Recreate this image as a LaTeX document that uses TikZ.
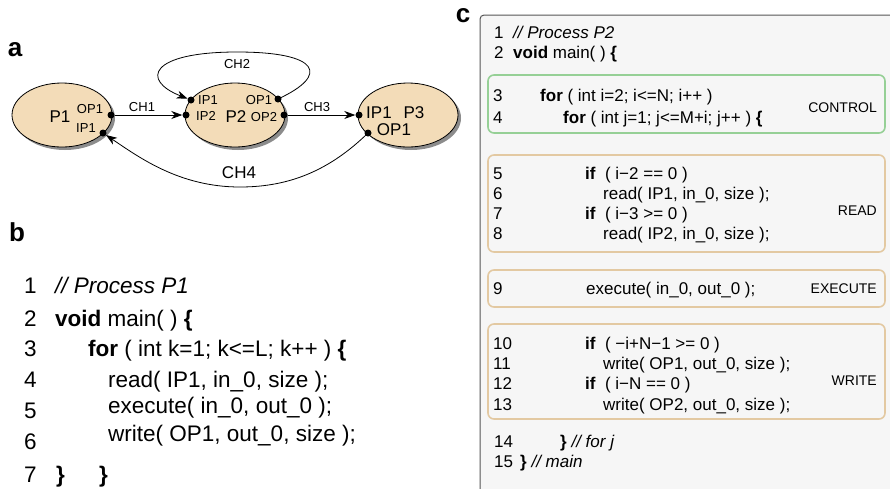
\documentclass[tikz,border=0pt]{standalone}
\usepackage{fontspec}
\setmainfont{Liberation Sans}
\usetikzlibrary{arrows.meta,shapes.geometric,shadows}
\definecolor{procfill}{HTML}{F3DCB8}
\definecolor{ctrlgreen}{HTML}{96D096}
\definecolor{tanline}{HTML}{E3C9A2}
\definecolor{panelfill}{HTML}{F6F6F6}
\definecolor{panelline}{HTML}{555555}
\begin{document}
\begin{tikzpicture}[x=1pt,y=-1pt,
  proc/.style={ellipse, draw=black, line width=0.8pt, fill=procfill, minimum width=100pt, minimum height=64pt, inner sep=0pt,
    drop shadow={shadow xshift=3pt, shadow yshift=-3pt, fill=black!45, opacity=1}},
  port/.style={circle, fill=black, inner sep=0pt, minimum size=7pt},
  chan/.style={line width=0.8pt, -{Stealth[length=11pt,width=8pt,inset=3.5pt]}},
  small/.style={font=\fontsize{13}{15}\selectfont, inner sep=0pt},
  big/.style={font=\fontsize{17}{19}\selectfont, inner sep=0pt},
  panel/.style={font=\fontsize{26}{28}\selectfont\bfseries, inner sep=0pt},
  codeb/.style={font=\fontsize{22.5}{25}\selectfont, inner sep=0pt, anchor=base west},
  codec/.style={font=\fontsize{17}{19}\selectfont, inner sep=0pt, anchor=base west},
  tag/.style={font=\fontsize{14}{16}\selectfont, inner sep=0pt, anchor=base east},
  block/.style={rounded corners=6pt, line width=1.6pt, fill=panelfill}
]
\path[use as bounding box] (0,0) rectangle (890,488);
\clip (0,0) rectangle (890,488);

% ---------------- panel a ----------------
\node[panel] (la) at (15,50) {a};
\node[proc] (P1) at (62,115) {};
\node[proc] (P2) at (235,115) {};
\node[proc] (P3) at (408,115) {};

\node[big] (t1) at (60,117) {P1};
\node[small] (t1o) at (90,109) {OP1};
\node[small] (t1i) at (86,128) {IP1};

\node[small] (t2i1) at (208,100) {IP1};
\node[small] (t2i2) at (206,116) {IP2};
\node[big] (t2) at (236,117) {P2};
\node[small] (t2o1) at (259,100) {OP1};
\node[small] (t2o2) at (264,117) {OP2};

\node[big] (t3i) at (379,113) {IP1};
\node[big] (t3) at (414,113) {P3};
\node[big] (t3o) at (394,130) {OP1};

\node[port] (p1op1) at (111,115) {};
\node[port] (p1ip1) at (103,133) {};
\node[port] (p2ip1) at (191,100) {};
\node[port] (p2ip2) at (186,115) {};
\node[port] (p2op1) at (278,99) {};
\node[port] (p2op2) at (284,115) {};
\node[port] (p3ip1) at (359,115) {};
\node[port] (p3op1) at (368,133) {};

\draw[chan] (p1op1) -- (p2ip2);
\draw[chan] (p2op2) -- (p3ip1);
\draw[chan] (p2op1.center) .. controls (330,75) and (320,52) .. (237,52)
             .. controls (150,52) and (140,80) .. (p2ip1);
\draw[chan] (p3op1.center) .. controls (330,170) and (290,187) .. (240,187)
             .. controls (180,187) and (140,158) .. (p1ip1);

\node[small] (ch1) at (142,107) {CH1};
\node[small] (ch3) at (317,107) {CH3};
\node[small] (ch2) at (237,64) {CH2};
\node[big] (ch4) at (239,173) {CH4};

% ---------------- panel b ----------------
\node[panel] (lb) at (17,232) {b};
\node[codeb] (b1n) at (24,293) {1};
\node[codeb] (b1) at (55,293) {\itshape // Process P1};
\node[codeb] (b2n) at (24,326) {2};
\node[codeb] (b2) at (55,326) {\textbf{void} main( ) \textbf{\{}};
\node[codeb] (b3n) at (24,356) {3};
\node[codeb] (b3) at (88,356) {\textbf{for} ( int k=1; k<=L; k++ ) \textbf{\{}};
\node[codeb] (b4n) at (24,387) {4};
\node[codeb] (b4) at (108,387) {read( IP1, in\_0, size );};
\node[codeb] (b5n) at (24,418) {5};
\node[codeb] (b5) at (108,413) {execute( in\_0, out\_0 );};
\node[codeb] (b6n) at (24,449) {6};
\node[codeb] (b6) at (108,441) {write( OP1, out\_0, size );};
\node[codeb] (b7n) at (24,482) {7};
\node[codeb] (b7a) at (56,482) {\textbf{\}}};
\node[codeb] (b7b) at (99,482) {\textbf{\}}};

% ---------------- panel c ----------------
\node[panel] (lc) at (463,16) {c};
\draw[panelline, line width=1pt, fill=panelfill, rounded corners=4pt] (480,15) rectangle (905,505);

\draw[block, draw=ctrlgreen] (488,75) rectangle (885,133);
\draw[block, draw=tanline] (488,155) rectangle (885,252);
\draw[block, draw=tanline] (488,270) rectangle (885,307);
\draw[block, draw=tanline] (488,324) rectangle (885,419);

\node[codec] (c1n) at (494,38) {1};
\node[codec] (c1) at (513,38) {\itshape // Process P2};
\node[codec] (c2n) at (494,58) {2};
\node[codec] (c2) at (513,58) {\textbf{void} main( ) \textbf{\{}};

\node[codec] (c3n) at (493,101) {3};
\node[codec] (c3) at (540,101) {\textbf{for} ( int i=2; i<=N; i++ )};
\node[codec] (c4n) at (493,123) {4};
\node[codec] (c4) at (563,123) {\textbf{for} ( int j=1; j<=M+i; j++ ) \textbf{\{}};
\node[tag] (tctrl) at (877,112) {CONTROL};

\node[codec] (c5n) at (493,179) {5};
\node[codec] (c5) at (585,179) {\textbf{if}\ \ ( i−2 == 0 )};
\node[codec] (c6n) at (493,199) {6};
\node[codec] (c6) at (603,199) {read( IP1, in\_0, size );};
\node[codec] (c7n) at (493,219) {7};
\node[codec] (c7) at (585,219) {\textbf{if}\ \ ( i−3 >= 0 )};
\node[codec] (c8n) at (493,239) {8};
\node[codec] (c8) at (603,239) {read( IP2, in\_0, size );};
\node[tag] (tread) at (877,215) {READ};

\node[codec] (c9n) at (493,294) {9};
\node[codec] (c9) at (586,294) {execute( in\_0, out\_0 );};
\node[tag] (texec) at (877,293) {EXECUTE};

\node[codec] (c10n) at (493,349) {10};
\node[codec] (c10) at (585,349) {\textbf{if}\ \ ( −i+N−1 >= 0 )};
\node[codec] (c11n) at (493,369) {11};
\node[codec] (c11) at (603,369) {write( OP1, out\_0, size );};
\node[codec] (c12n) at (493,389) {12};
\node[codec] (c12) at (585,389) {\textbf{if}\ \ ( i−N == 0 )};
\node[codec] (c13n) at (493,410) {13};
\node[codec] (c13) at (603,410) {write( OP2, out\_0, size );};
\node[tag] (twrite) at (877,385) {WRITE};

\node[codec] (c14n) at (494,447) {14};
\node[codec] (c14) at (560,447) {\textbf{\}} \textit{// for j}};
\node[codec] (c15n) at (494,467) {15};
\node[codec] (c15) at (520,467) {\textbf{\}} \textit{// main}};
\end{tikzpicture}
\end{document}
